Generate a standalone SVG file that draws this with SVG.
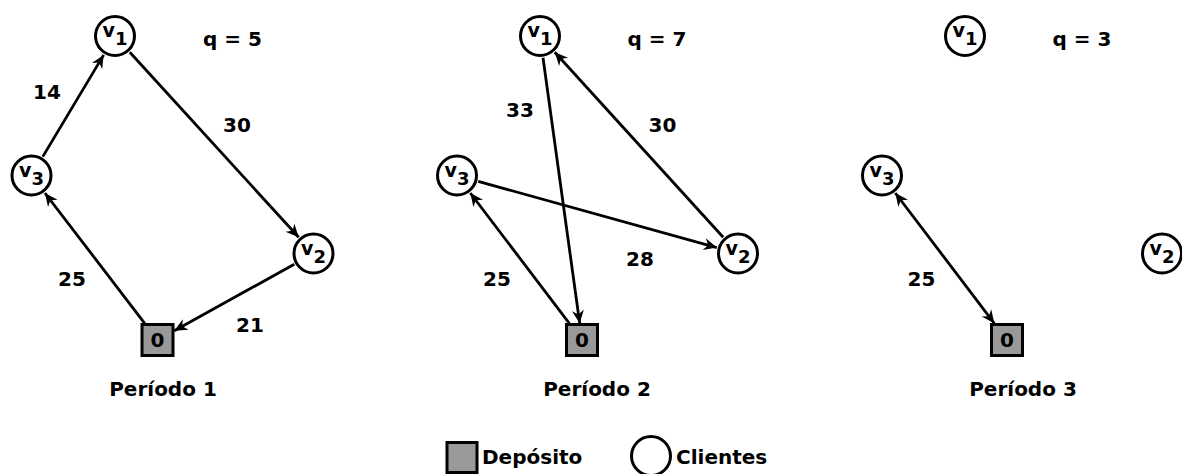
<svg xmlns="http://www.w3.org/2000/svg" width="1182" height="474" viewBox="0 0 1182 474">
<style>
text{font-family:"DejaVu Sans","Liberation Sans",sans-serif;font-weight:bold;fill:#000}
.lbl{font-size:20px;text-anchor:middle}
.nl{font-size:19px;text-anchor:middle}
.big{font-size:20px;text-anchor:middle}
.q{font-size:20px;text-anchor:middle}
.cl{fill:#fff;stroke:#000;stroke-width:3}
.dp{fill:#999;stroke:#000;stroke-width:3}
.e{stroke:#000;stroke-width:2.8;fill:none;marker-end:url(#ah)}
.e2{marker-start:url(#ah)}
.sub{font-size:18px}
</style>
<defs>
<marker id="ah" markerUnits="userSpaceOnUse" viewBox="-15 -8 17 16" refX="0" refY="0" markerWidth="17" markerHeight="16" orient="auto-start-reverse">
<path d="M0,0 L-13,-6 L-9,0 L-13,6 Z" fill="#000"/>
</marker>
</defs>
<rect width="1182" height="474" fill="#fff"/>
<g id="connectors">
<line class="e" x1="42.8" y1="156.6" x2="103.7" y2="54.9"/>
<line class="e" x1="129.8" y1="52.2" x2="298.7" y2="237.3"/>
<line class="e" x1="294.3" y1="264.2" x2="174.3" y2="330.7"/>
<line class="e" x1="144.7" y1="323.3" x2="44.9" y2="193"/>
<line class="e" x1="543" y1="57.8" x2="579.7" y2="323.3"/>
<line class="e" x1="723.2" y1="237.2" x2="554.8" y2="52.3"/>
<line class="e" x1="478.2" y1="181.4" x2="716.8" y2="247.6"/>
<line class="e" x1="569.3" y1="323.3" x2="470.3" y2="193"/>
<line class="e e2" x1="994.3" y1="323.3" x2="895.3" y2="193"/>
</g>
<g id="p1">
<g id="p1-v1"><circle class="cl" cx="115" cy="36" r="19.5"/><text class="nl" x="115" y="37">v<tspan class="sub" dy="8">1</tspan></text></g>
<g id="p1-v2"><circle class="cl" cx="313.5" cy="253.5" r="19.5"/><text class="nl" x="313.5" y="254.5">v<tspan class="sub" dy="8">2</tspan></text></g>
<g id="p1-v3"><circle class="cl" cx="31.5" cy="175.5" r="19.5"/><text class="nl" x="31.5" y="176.5">v<tspan class="sub" dy="8">3</tspan></text></g>
<g id="p1-d"><rect class="dp" x="142" y="324.5" width="31" height="31"/><text class="lbl" x="157.5" y="347">0</text></g>
<text class="q" x="232.5" y="46">q = 5</text>
<text class="lbl" x="47" y="98.5">14</text>
<text class="lbl" x="237" y="132">30</text>
<text class="lbl" x="72" y="286">25</text>
<text class="lbl" x="250" y="332">21</text>
<text class="big" x="163" y="396">Período 1</text>
</g>
<g id="p2">
<g id="p2-v1"><circle class="cl" cx="540" cy="36" r="19.5"/><text class="nl" x="540" y="37">v<tspan class="sub" dy="8">1</tspan></text></g>
<g id="p2-v2"><circle class="cl" cx="738" cy="253.5" r="19.5"/><text class="nl" x="738" y="254.5">v<tspan class="sub" dy="8">2</tspan></text></g>
<g id="p2-v3"><circle class="cl" cx="457" cy="175.5" r="19.5"/><text class="nl" x="457" y="176.5">v<tspan class="sub" dy="8">3</tspan></text></g>
<g id="p2-d"><rect class="dp" x="566.5" y="324.5" width="31" height="31"/><text class="lbl" x="582" y="347">0</text></g>
<text class="q" x="657" y="46">q = 7</text>
<text class="lbl" x="520" y="117">33</text>
<text class="lbl" x="662.5" y="132">30</text>
<text class="lbl" x="640" y="266">28</text>
<text class="lbl" x="497" y="286">25</text>
<text class="big" x="597" y="396">Período 2</text>
</g>
<g id="p3">
<g id="p3-v1"><circle class="cl" cx="965" cy="36" r="19.5"/><text class="nl" x="965" y="37">v<tspan class="sub" dy="8">1</tspan></text></g>
<g id="p3-v2"><circle class="cl" cx="1162" cy="253.5" r="19.5"/><text class="nl" x="1162" y="254.5">v<tspan class="sub" dy="8">2</tspan></text></g>
<g id="p3-v3"><circle class="cl" cx="882" cy="175.5" r="19.5"/><text class="nl" x="882" y="176.5">v<tspan class="sub" dy="8">3</tspan></text></g>
<g id="p3-d"><rect class="dp" x="991.5" y="324.5" width="31" height="31"/><text class="lbl" x="1007" y="347">0</text></g>
<text class="q" x="1082" y="46">q = 3</text>
<text class="lbl" x="921.5" y="286">25</text>
<text class="big" x="1023" y="396">Período 3</text>
</g>
<g id="legend">
<rect class="dp" x="447" y="442.5" width="30" height="30"/>
<text style="font-size:20px" x="482" y="464">Depósito</text>
<circle class="cl" cx="651" cy="456" r="19.5"/>
<text style="font-size:20px" x="676" y="464">Clientes</text>
</g>
</svg>
